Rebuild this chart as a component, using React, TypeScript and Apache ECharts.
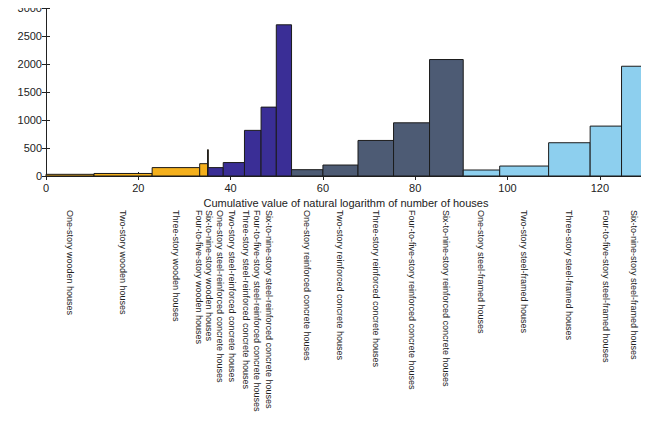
import { useEffect, useRef } from 'react';
import * as echarts from 'echarts';

const categories = [
  'One-story wooden houses',
  'Two-story wooden houses',
  'Three-story wooden houses',
  'Four-to-five-story wooden houses',
  'Six-to-nine-story wooden houses',
  'One-story steel-reinforced concrete houses',
  'Two-story steel-reinforced concrete houses',
  'Three-story steel-reinforced concrete houses',
  'Four-to-five-story steel-reinforced concrete houses',
  'Six-to-nine-story steel-reinforced concrete houses',
  'One-story reinforced concrete houses',
  'Two-story reinforced concrete houses',
  'Three-story reinforced concrete houses',
  'Four-to-five-story reinforced concrete houses',
  'Six-to-nine-story reinforced concrete houses',
  'One-story steel-framed houses',
  'Two-story steel-framed houses',
  'Three-story steel-framed houses',
  'Four-to-five-story steel-framed houses',
  'Six-to-nine-story steel-framed houses',
];
const xStart = [0, 10.4, 23.0, 33.3, 35.0, 35.1, 38.4, 43.0, 46.6, 49.9, 53.2, 60.0, 67.6, 75.3, 83.1, 90.4, 98.3, 108.9, 117.9, 124.7];
const xEnd = [10.4, 23.0, 33.3, 35.0, 35.15, 38.4, 43.0, 46.6, 49.9, 53.2, 60.0, 67.6, 75.3, 83.1, 90.4, 98.3, 108.9, 117.9, 124.7, 130.0];
const emissions = [30, 45, 150, 220, 470, 150, 240, 815, 1230, 2700, 113, 196, 635, 950, 2080, 107, 178, 594, 891, 1960];
const groups = [0, 0, 0, 0, 0, 1, 1, 1, 1, 1, 2, 2, 2, 2, 2, 3, 3, 3, 3, 3];
const groupColors = ['#f4b01c', '#3a2e96', '#4d5b74', '#8dcfee'];
// label x offsets (in axis units) where the reference spreads crowded labels apart
const labelX = [5.2, 16.7, 28.2, 33.2, 35.4, 37.6, 40.4, 43.3, 45.8, 48.3, 56.6, 63.8, 71.4, 79.2, 86.7, 94.3, 103.6, 113.4, 121.3, 127.3];

const FONT = 'Liberation Sans, Arial, sans-serif';

const App = () => {
  const ref = useRef<HTMLDivElement>(null);

  useEffect(() => {
    if (!ref.current) return;
    const chart = echarts.init(ref.current, undefined, { renderer: 'svg' });
    const data = categories.map((c, i) => [xStart[i], xEnd[i], emissions[i], groups[i], labelX[i]]);

    const axisCommon = {
      min: 0,
      interval: 20,
      axisLine: { show: true, lineStyle: { color: '#222', width: 1 } },
      axisTick: { inside: true, length: 4, lineStyle: { color: '#222' } },
      splitLine: { show: false },
    };

    chart.setOption({
      animation: false,
      grid: { left: 46, right: 3, top: 8, bottom: 245, containLabel: false, outerBoundsMode: 'none' },
      xAxis: [
        {
          ...axisCommon,
          type: 'value',
          max: 130,
          axisLabel: { color: '#222', fontSize: 11, fontFamily: FONT, showMaxLabel: false, margin: 6 },
          name: 'Cumulative value of natural logarithm of number of houses',
          nameLocation: 'middle',
          nameGap: 21,
          nameTextStyle: { color: '#222', fontSize: 11, fontFamily: FONT },
        },
        {
          ...axisCommon,
          type: 'value',
          max: 130,
          position: 'top',
          axisLabel: { show: false },
        },
      ],
      yAxis: [
        {
          type: 'value',
          min: 0,
          max: 3000,
          interval: 500,
          axisLine: { show: true, lineStyle: { color: '#222' } },
          axisTick: { inside: true, length: 4, lineStyle: { color: '#222' } },
          splitLine: { show: false },
          axisLabel: { color: '#222', fontSize: 11, fontFamily: FONT, margin: 4, formatter: (v: number) => String(v) },
          name: 'CO\u2082 emissions per house (t-CO\u2082/house)',
          nameLocation: 'middle',
          nameGap: 33,
          nameTextStyle: { color: '#222', fontSize: 9.5, fontFamily: FONT },
        },
        {
          type: 'value',
          min: 0,
          max: 3000,
          interval: 500,
          position: 'right',
          axisLine: { show: true, lineStyle: { color: '#222' } },
          axisTick: { inside: true, length: 4, lineStyle: { color: '#222' } },
          splitLine: { show: false },
          axisLabel: { show: false },
        },
      ],
      series: [
        {
          type: 'custom',
          clip: false,
          data,
          encode: { x: [0, 1], y: 2 },
          renderItem: (params: any, api: any) => {
            const s = api.coord([api.value(0), 0]);
            const e = api.coord([api.value(1), api.value(2)]);
            const mid = api.coord([api.value(4), 0]);
            const color = groupColors[api.value(3)];
            return {
              type: 'group',
              children: [
                {
                  type: 'rect',
                  shape: { x: s[0], y: e[1], width: Math.max(e[0] - s[0], 0.8), height: s[1] - e[1] },
                  style: { fill: color, stroke: '#1b1b1b', lineWidth: 1 },
                },
                {
                  type: 'text',
                  x: mid[0],
                  y: 210,
                  rotation: -Math.PI / 2,
                  style: {
                    text: categories[params.dataIndex],
                    fill: '#222',
                    fontSize: 9,
                    fontFamily: FONT,
                    align: 'left',
                    verticalAlign: 'middle',
                  },
                },
              ],
            };
          },
        },
      ],
    });

    return () => chart.dispose();
  }, []);

  return <div ref={ref} style={{ width: 649, height: 421, margin: -8 }} />;
};

export default App;
